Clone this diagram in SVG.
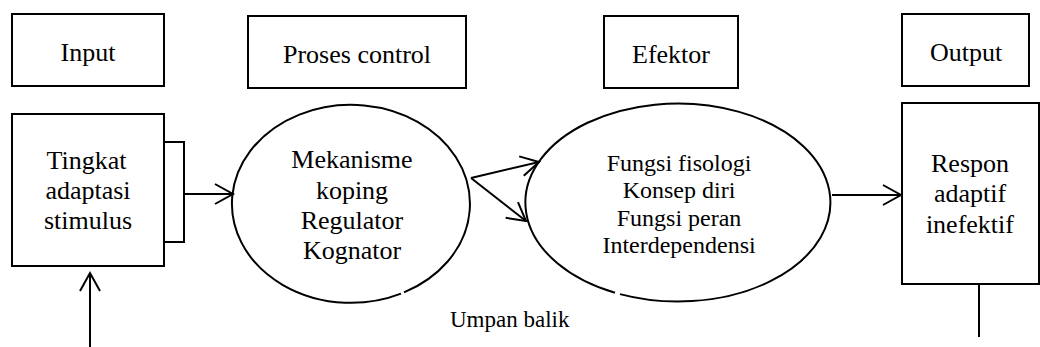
<svg xmlns="http://www.w3.org/2000/svg" width="1040" height="347" viewBox="0 0 1040 347">
<style>
.box{fill:#fff;stroke:#000;stroke-width:2}
.shape{fill:none;stroke:#000;stroke-width:2}
.conn{fill:none;stroke:#000;stroke-width:2}
</style>
<defs>
<marker id="arr" markerUnits="userSpaceOnUse" markerWidth="26" markerHeight="26" viewBox="-22 -13 26 26" refX="0" refY="0" orient="auto">
<path d="M -18 -10 L 0 0 L -18 10" fill="none" stroke="#000" stroke-width="2"/>
</marker>
</defs>
<rect width="1040" height="347" fill="#fff"/>
<g id="input-header">
<rect class="box" x="12" y="14" width="152" height="72"/>
<text x="60.6" y="61" font-size="26" font-family="Liberation Serif, Times New Roman, serif">Input</text>
</g>
<g id="proses-header">
<rect class="box" x="248" y="16" width="218" height="72"/>
<text x="283" y="63" font-size="26" font-family="Liberation Serif, Times New Roman, serif">Proses control</text>
</g>
<g id="efektor-header">
<rect class="box" x="604" y="16" width="134" height="72"/>
<text x="632" y="63" font-size="26" font-family="Liberation Serif, Times New Roman, serif">Efektor</text>
</g>
<g id="output-header">
<rect class="box" x="902" y="14" width="127" height="72"/>
<text x="930" y="61" font-size="26" font-family="Liberation Serif, Times New Roman, serif">Output</text>
</g>
<g id="input-node">
<rect class="box" x="164" y="142" width="20" height="100"/>
<rect class="box" x="12" y="114" width="152" height="152"/>
<text x="46.5" y="169" font-size="26" font-family="Liberation Serif, Times New Roman, serif">Tingkat</text>
<text x="45.4" y="199" font-size="26" font-family="Liberation Serif, Times New Roman, serif">adaptasi</text>
<text x="43.9" y="229" font-size="26" font-family="Liberation Serif, Times New Roman, serif">stimulus</text>
</g>
<g id="proses-node">
<path class="shape" d="M 404 292.4 A 119 99 0 1 0 401 293.6"/>
<text x="291.3" y="168" font-size="26" font-family="Liberation Serif, Times New Roman, serif">Mekanisme</text>
<text x="315.9" y="199" font-size="26" font-family="Liberation Serif, Times New Roman, serif">koping</text>
<text x="300.7" y="229" font-size="26" font-family="Liberation Serif, Times New Roman, serif">Regulator</text>
<text x="302.9" y="259" font-size="26" font-family="Liberation Serif, Times New Roman, serif">Kognator</text>
</g>
<g id="efektor-node">
<path class="shape" d="M 620 294.1 A 152.5 99 0 1 0 615 292.7"/>
<text x="606.7" y="171" font-size="24" font-family="Liberation Serif, Times New Roman, serif">Fungsi fisologi</text>
<text x="622.7" y="198" font-size="24" font-family="Liberation Serif, Times New Roman, serif">Konsep diri</text>
<text x="616.7" y="226" font-size="24" font-family="Liberation Serif, Times New Roman, serif">Fungsi peran</text>
<text x="602.4" y="253" font-size="24" font-family="Liberation Serif, Times New Roman, serif">Interdependensi</text>
</g>
<g id="output-node">
<rect class="box" x="902" y="103" width="137" height="181"/>
<text x="931" y="172" font-size="26" font-family="Liberation Serif, Times New Roman, serif">Respon</text>
<text x="933.9" y="202" font-size="26" font-family="Liberation Serif, Times New Roman, serif">adaptif</text>
<text x="925.9" y="233" font-size="26" font-family="Liberation Serif, Times New Roman, serif">inefektif</text>
</g>
<g id="feedback-label">
<text x="450" y="327" font-size="23" font-family="Liberation Serif, Times New Roman, serif">Umpan balik</text>
</g>
<g id="connectors">
<path class="conn" d="M184 194 L233 194" marker-end="url(#arr)"/>
<path class="conn" d="M471 178 L539 162" marker-end="url(#arr)"/>
<path class="conn" d="M471 178 L526 221" marker-end="url(#arr)"/>
<path class="conn" d="M832 195 L901 195" marker-end="url(#arr)"/>
<path class="conn" d="M90 347 L90 273" marker-end="url(#arr)"/>
<path class="conn" d="M979 284 L979 337"/>
</g>
</svg>
